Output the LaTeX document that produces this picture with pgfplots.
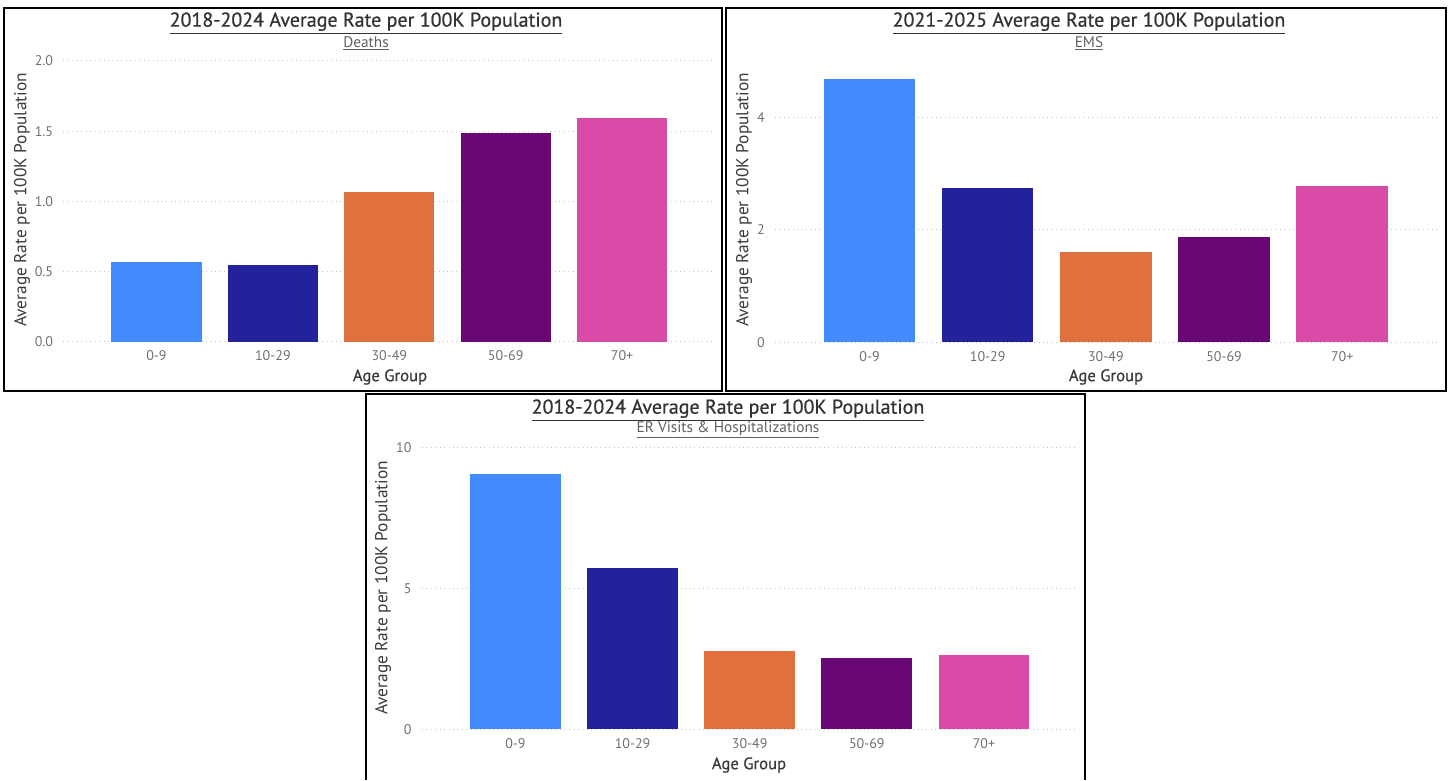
\documentclass[border=0pt]{standalone}
\usepackage{fontspec}
\setmainfont{PT Sans}
\newfontfamily\medfont[FakeBold=0.7]{PT Sans}
\usepackage{pgfplots}
\pgfplotsset{compat=1.18}

\definecolor{c1}{HTML}{418BFF}
\definecolor{c2}{HTML}{23219C}
\definecolor{c3}{HTML}{E0703E}
\definecolor{c4}{HTML}{690775}
\definecolor{c5}{HTML}{D94BA7}
\definecolor{tickgray}{HTML}{707070}
\definecolor{titlegray}{HTML}{333333}
\definecolor{subgray}{HTML}{606060}
\definecolor{labelgray}{HTML}{3A3A3A}
\definecolor{gridgray}{HTML}{C4C4C4}

\pgfplotsset{
 panel/.style={
  scale only axis,
  xmin=-0.8, xmax=4.8, ymin=0,
  xtick={0,1,2,3,4},
  xticklabels={0-9,10-29,30-49,50-69,70+},
  axis line style={draw=none},
  major tick length=0pt,
  ymajorgrids, xmajorgrids=false,
  grid style={gridgray, line width=0.75pt, dash pattern=on 0.75pt off 2.6pt},
  tick label style={font=\fontsize{10.5}{12}\selectfont, text=tickgray},
  /pgf/number format/assume math mode=true,
  xticklabel style={anchor=north, inner sep=0pt, yshift=-6.5pt},
  yticklabel style={anchor=east, inner sep=0pt, xshift=-7.5pt},
  clip=false,
 },
 bars/.style={ybar, bar shift=0pt, bar width=0.775, draw=none, fill=#1},
}

\begin{document}
\begin{tikzpicture}
\begin{scope}[x=0.75pt,y=-0.75pt]
\useasboundingbox (0,0) rectangle (1450,778);
\end{scope}

% ---------- Panel 1: Deaths ----------
\begin{axis}[panel, at={(47.475pt,-256.125pt)}, anchor=south west,
  width=489pt, height=210.4pt, ymax=2,
  ytick={0,0.5,1,1.5,2},
  yticklabel style={/pgf/number format/.cd, fixed, fixed zerofill, precision=1}]
\addplot[bars=c1] coordinates {(0,0.569)};
\addplot[bars=c2] coordinates {(1,0.546)};
\addplot[bars=c3] coordinates {(2,1.064)};
\addplot[bars=c4] coordinates {(3,1.485)};
\addplot[bars=c5] coordinates {(4,1.592)};
\end{axis}

% ---------- Panel 2: EMS ----------
\begin{axis}[panel, at={(581.25pt,-256.725pt)}, anchor=south west,
  width=496.3pt, height=210.75pt, ymax=5,
  ytick={0,2,4}]
\addplot[bars=c1] coordinates {(0,4.68)};
\addplot[bars=c2] coordinates {(1,2.75)};
\addplot[bars=c3] coordinates {(2,1.61)};
\addplot[bars=c4] coordinates {(3,1.88)};
\addplot[bars=c5] coordinates {(4,2.79)};
\end{axis}

% ---------- Panel 3: ER Visits ----------
\begin{axis}[panel, at={(316.275pt,-546.975pt)}, anchor=south west,
  width=492pt, height=211.5pt, ymax=10,
  ytick={0,5,10}]
\addplot[bars=c1] coordinates {(0,9.05)};
\addplot[bars=c2] coordinates {(1,5.71)};
\addplot[bars=c3] coordinates {(2,2.77)};
\addplot[bars=c4] coordinates {(3,2.53)};
\addplot[bars=c5] coordinates {(4,2.63)};
\end{axis}

\begin{scope}[x=0.75pt,y=-0.75pt]
% ---------- Texts ----------
\node[text=titlegray, font=\medfont\fontsize{15}{17}\selectfont] at (366,23) {\underline{2018-2024 Average Rate per 100K Population}};
\node[text=subgray, font=\fontsize{11.5}{13}\selectfont] at (366,43.5) {\underline{Deaths}};
\node[text=titlegray, font=\medfont\fontsize{15}{17}\selectfont] at (1089,23) {\underline{2021-2025 Average Rate per 100K Population}};
\node[text=subgray, font=\fontsize{11.5}{13}\selectfont] at (1089,43.5) {\underline{EMS}};
\node[text=titlegray, font=\medfont\fontsize{15}{17}\selectfont] at (728,410) {\underline{2018-2024 Average Rate per 100K Population}};
\node[text=subgray, font=\fontsize{11.5}{13}\selectfont] at (728,430) {\underline{ER Visits \& Hospitalizations}};

\node[rotate=90, text=labelgray, font=\fontsize{13}{15}\selectfont] at (22,200) {Average Rate per 100K Population};
\node[rotate=90, text=labelgray, font=\fontsize{13}{15}\selectfont] at (744,200) {Average Rate per 100K Population};
\node[rotate=90, text=labelgray, font=\fontsize{13}{15}\selectfont] at (383,588) {Average Rate per 100K Population};

\node[text=labelgray, font=\medfont\fontsize{12.5}{14}\selectfont] at (390,377) {Age Group};
\node[text=labelgray, font=\medfont\fontsize{12.5}{14}\selectfont] at (1106,377) {Age Group};
\node[text=labelgray, font=\medfont\fontsize{12.5}{14}\selectfont] at (749,765) {Age Group};

% ---------- Borders ----------
\draw[line width=1.5pt] (4,8) rectangle (721.5,391);
\draw[line width=1.5pt] (726,8) rectangle (1446,391);
\draw[line width=1.5pt] (365.5,780) -- (365.5,394) -- (1085,394) -- (1085,780);
\end{scope}
\end{tikzpicture}
\end{document}
